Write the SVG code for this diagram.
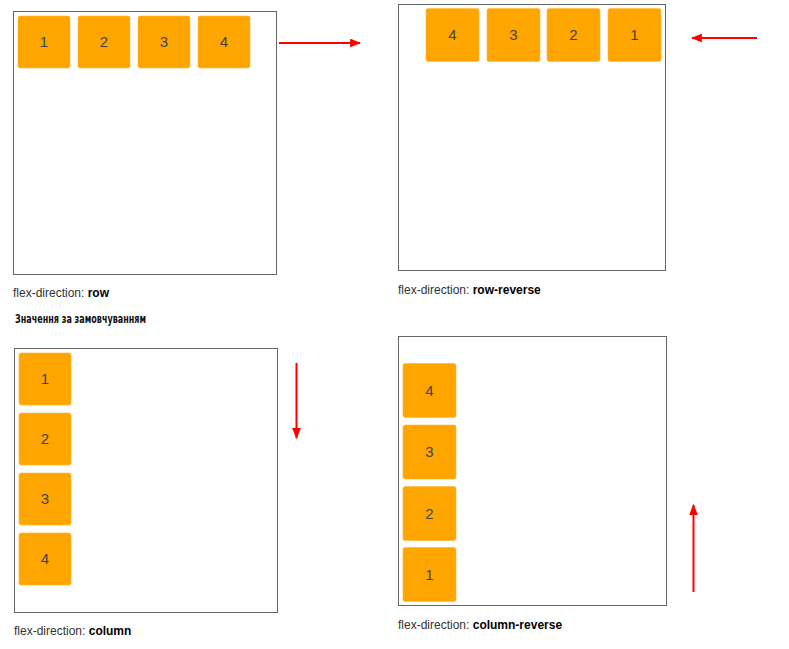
<svg xmlns="http://www.w3.org/2000/svg" width="789" height="649" viewBox="0 0 789 649">
<style>
.panel{fill:#fff;stroke:#666;stroke-width:1}
.item{fill:#FFA500;stroke:#FFB733;stroke-width:0.6}
.num{font-family:"Liberation Sans",Arial,sans-serif;font-size:15px;fill:#444;text-anchor:middle}
.lbl{font-family:"Liberation Sans",Arial,sans-serif;font-size:12px;fill:#333}
.lbl tspan{font-weight:bold;fill:#000}
.note{font-family:"DejaVu Sans Condensed","DejaVu Sans",sans-serif;font-stretch:condensed;font-weight:bold;font-size:13px;fill:#111}
.arrow{stroke:#f00;stroke-width:2;fill:none;marker-end:url(#ah)}
</style>
<defs>
<marker id="ah" viewBox="0 0 10 8" refX="9" refY="4" markerWidth="5.5" markerHeight="4.4" orient="auto" markerUnits="strokeWidth">
<path d="M0,0 L10,4 L0,8 z" fill="#f00"/>
</marker>
</defs>
<rect width="789" height="649" fill="#fff"/>

<g id="panel-row">
<rect class="panel" x="13.5" y="11.5" width="263" height="263"/>
<g id="row-1"><rect class="item" x="18" y="16" width="52" height="52" rx="2"/><text class="num" x="44" y="47">1</text></g>
<g id="row-2"><rect class="item" x="78" y="16" width="52" height="52" rx="2"/><text class="num" x="104" y="47">2</text></g>
<g id="row-3"><rect class="item" x="138" y="16" width="52" height="52" rx="2"/><text class="num" x="164" y="47">3</text></g>
<g id="row-4"><rect class="item" x="198" y="16" width="52" height="52" rx="2"/><text class="num" x="224" y="47">4</text></g>
<text class="lbl" x="13" y="297">flex-direction: <tspan>row</tspan></text>
<text class="note" x="15" y="323" textLength="131" lengthAdjust="spacingAndGlyphs">Значення за замовчуванням</text>
</g>

<g id="panel-row-reverse">
<rect class="panel" x="398.5" y="4.5" width="267" height="266"/>
<g id="rr-4"><rect class="item" x="426" y="8.5" width="53" height="53" rx="2"/><text class="num" x="452.5" y="40">4</text></g>
<g id="rr-3"><rect class="item" x="487" y="8.5" width="53" height="53" rx="2"/><text class="num" x="513.5" y="40">3</text></g>
<g id="rr-2"><rect class="item" x="547" y="8.5" width="53" height="53" rx="2"/><text class="num" x="573.5" y="40">2</text></g>
<g id="rr-1"><rect class="item" x="608" y="8.5" width="53" height="53" rx="2"/><text class="num" x="634.5" y="40">1</text></g>
<text class="lbl" x="398" y="294">flex-direction: <tspan>row-reverse</tspan></text>
</g>

<g id="panel-column">
<rect class="panel" x="14.5" y="348.5" width="263" height="264"/>
<g id="col-1"><rect class="item" x="19" y="353" width="52" height="52" rx="2"/><text class="num" x="45" y="384">1</text></g>
<g id="col-2"><rect class="item" x="19" y="413" width="52" height="52" rx="2"/><text class="num" x="45" y="444">2</text></g>
<g id="col-3"><rect class="item" x="19" y="473" width="52" height="52" rx="2"/><text class="num" x="45" y="504">3</text></g>
<g id="col-4"><rect class="item" x="19" y="533" width="52" height="52" rx="2"/><text class="num" x="45" y="564">4</text></g>
<text class="lbl" x="14" y="635">flex-direction: <tspan>column</tspan></text>
</g>

<g id="panel-column-reverse">
<rect class="panel" x="398.5" y="336.5" width="268" height="269"/>
<g id="cr-4"><rect class="item" x="403" y="363.5" width="53" height="54" rx="2"/><text class="num" x="429.5" y="396">4</text></g>
<g id="cr-3"><rect class="item" x="403" y="425" width="53" height="54" rx="2"/><text class="num" x="429.5" y="457">3</text></g>
<g id="cr-2"><rect class="item" x="403" y="486.5" width="53" height="54" rx="2"/><text class="num" x="429.5" y="519">2</text></g>
<g id="cr-1"><rect class="item" x="403" y="547.5" width="53" height="54" rx="2"/><text class="num" x="429.5" y="580">1</text></g>
<text class="lbl" x="398" y="629">flex-direction: <tspan>column-reverse</tspan></text>
</g>

<g id="connectors">
<line class="arrow" x1="279" y1="43" x2="360" y2="43"/>
<line class="arrow" x1="757" y1="38" x2="692" y2="38"/>
<line class="arrow" x1="296.5" y1="363" x2="296.5" y2="438"/>
<line class="arrow" x1="693.5" y1="592" x2="693.5" y2="505"/>
</g>
</svg>
